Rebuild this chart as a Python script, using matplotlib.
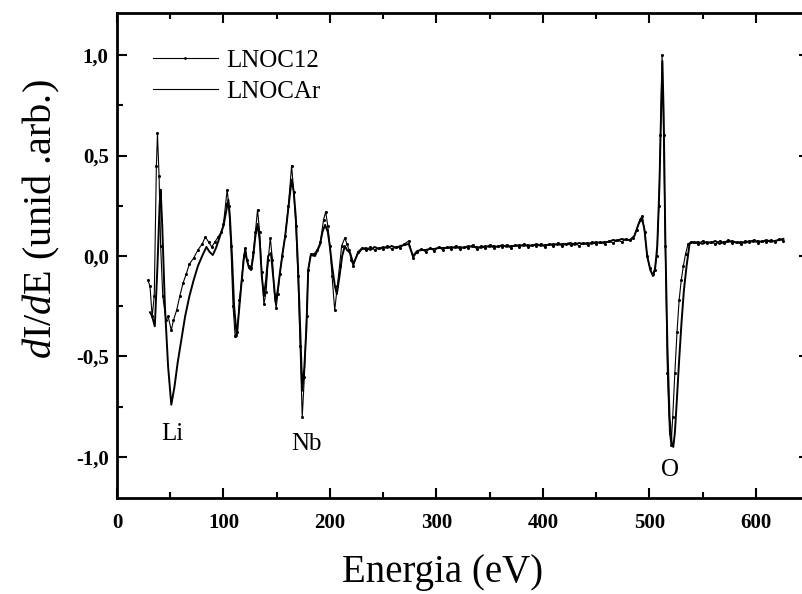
import numpy as np
import matplotlib
matplotlib.use("Agg")
import matplotlib.pyplot as plt
from matplotlib.lines import Line2D

plt.rcParams['font.family'] = ['Liberation Serif', 'DejaVu Serif']
plt.rcParams['mathtext.fontset'] = 'custom'
plt.rcParams['mathtext.rm'] = 'Liberation Serif'
plt.rcParams['mathtext.it'] = 'Liberation Serif:italic'

# ---------------- data ----------------
# LNOC12 (dotted)  -- feature region 29-222 eV
e_c12_a = [29, 31, 33, 35, 37, 38, 39.5, 41, 43, 46, 48, 51, 53, 56, 59, 62, 65, 68, 72, 76,
           80, 83, 86, 89, 92, 95, 98, 100, 102, 103.5, 105, 107, 109, 111, 113, 115, 117, 119,
           120.5, 122, 124, 126, 128, 130, 132, 134, 136, 138, 140, 142, 144, 146, 148, 149.5,
           151, 153, 155, 158, 161, 164, 166, 168, 170, 172, 174, 176, 178, 179.6, 182, 185,
           188, 191, 194, 196, 198, 200, 202, 204.5, 207, 209, 211, 214, 216, 218, 220, 222]
v_c12_a = [-0.12, -0.15, -0.30, -0.20, 0.45, 0.61, 0.40, 0.05, -0.20, -0.32, -0.30, -0.37,
           -0.32, -0.27, -0.20, -0.135, -0.09, -0.04, -0.01, 0.03,
           0.06, 0.095, 0.07, 0.045, 0.07, 0.095, 0.12, 0.16, 0.26, 0.33, 0.25, 0.05, -0.25,
           -0.40, -0.38, -0.22, -0.12, 0.0,
           0.04, -0.02, -0.05, -0.06, 0.02, 0.12, 0.23, 0.12, -0.08, -0.24, -0.18, -0.02, 0.09,
           -0.02, -0.20, -0.26,
           -0.19, -0.09, 0.0, 0.10, 0.25, 0.45, 0.32, 0.15, -0.10, -0.45, -0.80, -0.60, -0.30,
           -0.07, 0.01, 0.01,
           0.03, 0.07, 0.18, 0.22, 0.15, 0.05, -0.10, -0.27, -0.15, -0.05, 0.05, 0.09, 0.06,
           0.03, -0.02, -0.05]
# flat region 226-478 eV, step 4
v_c12_flat = [0.02, 0.04, 0.03, 0.045, 0.03, 0.04, 0.035, 0.05, 0.035, 0.045,
              0.04, 0.06, 0.075, -0.01, 0.02, 0.035, 0.02, 0.04, 0.025, 0.045,
              0.03, 0.045, 0.035, 0.05, 0.035, 0.045, 0.04, 0.055, 0.035, 0.05,
              0.04, 0.055, 0.04, 0.05, 0.045, 0.055, 0.04, 0.055, 0.045, 0.06,
              0.045, 0.055, 0.05, 0.06, 0.045, 0.06, 0.05, 0.065, 0.05, 0.06,
              0.055, 0.065, 0.05, 0.065, 0.055, 0.07, 0.06, 0.07, 0.06, 0.075,
              0.065, 0.08, 0.07, 0.085]
# O region
e_c12_b = [482, 485, 488, 491, 493.5, 495.5, 498, 500.5, 503, 505, 507, 509, 510.5, 512,
           513.5, 515, 517, 519, 520.5, 522, 524, 526, 528, 530, 532, 534, 536.5, 539]
v_c12_b = [0.08, 0.09, 0.13, 0.18, 0.20, 0.12, 0.0, -0.06, -0.09, -0.07, 0.0, 0.25, 0.60, 1.0,
           0.60, 0.05, -0.58, -0.88, -0.94, -0.80, -0.58, -0.38, -0.22, -0.12, -0.05, 0.01,
           0.06, 0.07]
# flat region 542-626 eV, step 4
v_c12_end = [0.07, 0.06, 0.075, 0.065, 0.07, 0.06, 0.075, 0.065, 0.08, 0.065, 0.07,
             0.06, 0.075, 0.07, 0.08, 0.065, 0.075, 0.07, 0.08, 0.07, 0.085, 0.075]

# LNOCAr (solid)
e_car_a = [31, 33, 35.5, 38, 40, 41, 42.5, 45, 48, 51, 54, 57, 60, 64, 68, 72, 76, 80, 84, 87,
           90, 93, 96.5, 100, 104.6, 106, 108, 110, 112.5, 115, 117, 119, 120.5, 122, 124, 126,
           128, 130, 132, 134, 136, 138, 140, 142, 144.6, 147, 149, 151, 153, 156, 158, 161,
           164, 166, 168, 170, 172, 174, 176, 178, 179.6, 182, 186, 190.6, 193, 195.5, 198,
           200, 202, 204.7, 206.5, 209, 211.5, 214, 216, 219, 222]
v_car_a = [-0.28, -0.30, -0.35, -0.05, 0.25, 0.33, 0.15, -0.25, -0.55, -0.74, -0.65, -0.53,
           -0.43, -0.30, -0.20, -0.12, -0.05, 0.0, 0.045, 0.02,
           0.005, 0.04, 0.095, 0.15, 0.28, 0.20, 0.0, -0.25, -0.40, -0.25, -0.13, -0.02, 0.03,
           -0.02, -0.06, -0.07,
           0.0, 0.10, 0.16, 0.08, -0.10, -0.20, -0.12, 0.0, 0.015, -0.12, -0.23, -0.17, -0.085,
           0.03, 0.10, 0.24,
           0.38, 0.32, 0.19, -0.05, -0.35, -0.67, -0.55, -0.35, -0.07, 0.005, 0.0, 0.055, 0.12,
           0.155, 0.12,
           0.045, -0.05, -0.15, -0.19, -0.10, 0.0, 0.05, 0.03, 0.015, -0.04]
v_car_flat = [0.01, 0.035, 0.04, 0.03, 0.045, 0.035, 0.045, 0.04, 0.05, 0.04,
              0.05, 0.055, 0.06, 0.0, 0.025, 0.03, 0.03, 0.035, 0.035, 0.04,
              0.04, 0.04, 0.045, 0.04, 0.045, 0.04, 0.05, 0.045, 0.045, 0.04,
              0.05, 0.045, 0.05, 0.045, 0.055, 0.045, 0.05, 0.05, 0.055, 0.05,
              0.055, 0.05, 0.06, 0.05, 0.055, 0.055, 0.06, 0.055, 0.06, 0.06,
              0.065, 0.055, 0.065, 0.06, 0.065, 0.06, 0.07, 0.065, 0.07, 0.07,
              0.08, 0.075, 0.085, 0.08]
e_car_b = [482, 486, 490, 493, 495.5, 498, 501, 503.5, 505.5, 507.5, 509.5, 511, 512.3, 513.5,
           515, 517, 519, 521, 522.5, 524, 525.5, 528, 530.2, 532.5, 535, 537.8, 540]
v_car_b = [0.08, 0.10, 0.16, 0.19, 0.13, 0.0, -0.07, -0.10, -0.06, 0.05, 0.35, 0.70, 0.97,
           0.70, 0.10, -0.45, -0.80, -0.93, -0.95, -0.88, -0.75, -0.52, -0.335, -0.17, -0.05,
           0.06, 0.07]
v_car_end = [0.065, 0.07, 0.06, 0.07, 0.065, 0.075, 0.06, 0.07, 0.07, 0.075, 0.065,
             0.07, 0.065, 0.075, 0.07, 0.075, 0.07, 0.08, 0.07, 0.075, 0.08, 0.085]

flat_e = list(np.arange(226, 479, 4))
end_e = list(np.arange(542, 627, 4))

labels = ["LNOC12", "LNOCAr"]
annots = [("Li", 51.6, -0.886), ("Nb", 178.4, -0.935), ("O", 519, -1.065)]
xticks = [0, 100, 200, 300, 400, 500, 600]
yticks = [-1.0, -0.5, 0.0, 0.5, 1.0]
ytick_labels = ["-1,0", "-0,5", "0,0", "0,5", "1,0"]

e_c12 = e_c12_a + flat_e + e_c12_b + end_e
v_c12 = v_c12_a + v_c12_flat + v_c12_b + v_c12_end
e_car = e_car_a + flat_e + e_car_b + end_e
v_car = v_car_a + v_car_flat + v_car_b + v_car_end

# ---------------- figure ----------------
fig = plt.figure(figsize=(8.03, 5.94), dpi=100)
ax = fig.add_axes([117 / 803, 1 - 498 / 594, 692 / 803, (498 - 13) / 594])

ax.plot(e_car, v_car, color='black', lw=1.4, solid_joinstyle='round')
ax.plot(e_c12, v_c12, color='black', lw=0.8, marker='o', ms=2.2, mew=0)

ax.set_xlim(0, 650)
ax.set_ylim(-1.204, 1.209)
ax.set_xticks(xticks)
ax.set_xticks(np.arange(50, 650, 100), minor=True)
ax.set_yticks(yticks)
ax.set_yticklabels(ytick_labels)
ax.set_yticks([-0.75, -0.25, 0.25, 0.75], minor=True)
ax.tick_params(which='both', direction='in', top=True, right=True, width=1.5,
               labelsize=15)
ax.tick_params(axis='x', pad=11)
ax.tick_params(axis='y', pad=6)
ax.tick_params(which='major', length=7)
ax.tick_params(which='minor', length=4)
for lab in ax.get_xticklabels() + ax.get_yticklabels():
    lab.set_fontweight('bold')
for s in ax.spines.values():
    s.set_linewidth(2)

ax.set_xlabel("Energia (eV)", fontsize=28)
ax.xaxis.set_label_coords(0.47, -0.115)
ax.set_ylabel(r"$\mathit{d}$I/$\mathit{d}$E (unid .arb.)", fontsize=29)
ax.yaxis.set_label_coords(-0.08, 0.575)

for t, x, y in annots:
    ax.text(x, y, t, fontsize=18, ha='center', va='center')

handles = [Line2D([], [], color='black', lw=0.8, marker='o', ms=2, markevery=[1],
                  mew=0),
           Line2D([], [], color='black', lw=0.8)]
leg = ax.legend(handles, labels, loc='upper left', bbox_to_anchor=(0.019, 0.971),
                frameon=False, fontsize=18, handlelength=2.6, handletextpad=0.36,
                labelspacing=0.32)

fig.savefig("out.png", dpi=100)
